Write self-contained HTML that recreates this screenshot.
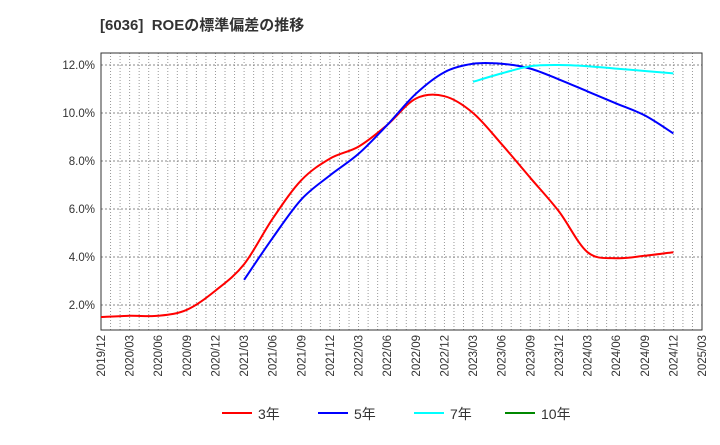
<!DOCTYPE html>
<html><head><meta charset="utf-8"><style>
body{margin:0;background:#fff;font-family:"Liberation Sans","Noto Sans CJK JP",sans-serif}
</style></head><body>
<svg width="720" height="440" xmlns="http://www.w3.org/2000/svg" id="chart" font-family="Liberation Sans, Noto Sans CJK JP, sans-serif">
<rect width="720" height="440" fill="#fff"/>
<text x="100" y="30" font-size="15" font-weight="bold" fill="#333">[6036]&#160; ROEの標準偏差の推移</text>
<g id="grid"></g><g id="axes"></g><g id="series"></g><g id="legend"></g>
</svg>
<script>
const xLabels=["2019/12","2020/03","2020/06","2020/09","2020/12","2021/03","2021/06","2021/09","2021/12","2022/03","2022/06","2022/09","2022/12","2023/03","2023/06","2023/09","2023/12","2024/03","2024/06","2024/09","2024/12","2025/03"];
const yTicks=[2,4,6,8,10,12];
const s3=[1.5,1.55,1.55,1.8,2.6,3.7,5.6,7.2,8.1,8.6,9.5,10.6,10.7,10.0,8.7,7.3,5.9,4.2,3.95,4.05,4.2];
const s5=[null,null,null,null,null,3.05,4.8,6.4,7.4,8.3,9.5,10.8,11.7,12.05,12.05,11.85,11.4,10.9,10.4,9.9,9.15];
const s7=[null,null,null,null,null,null,null,null,null,null,null,null,null,11.3,11.65,11.95,12.0,11.95,11.85,11.75,11.65];
const s10=[];
const L=101,R=702,T=53,B=330;
const xs=i=>L+i*(R-L)/21;
const ys=v=>353-v*24;
const NS="http://www.w3.org/2000/svg";
function mk(t,a,p){const e=document.createElementNS(NS,t);for(const k in a)e.setAttribute(k,a[k]);p.appendChild(e);return e;}
const g=document.getElementById('grid');
for(let m=1;m<63;m++){const x=L+m*(R-L)/63;
const l=mk('line',{x1:x,x2:x,y1:T,y2:B,stroke:'#999','stroke-dasharray':'1,2','stroke-width':1},g);

}
yTicks.forEach(v=>{const l=mk('line',{x1:L,x2:R,y1:ys(v),y2:ys(v),stroke:'#888','stroke-dasharray':'2,2'},g);


const t=mk('text',{x:L-6,y:ys(v)+4,'text-anchor':'end','font-size':11.5,fill:'#333'},g);t.textContent=v.toFixed(1)+'%';

});
const a=document.getElementById('axes');
const fr=mk('rect',{x:L,y:T,width:R-L,height:B-T,fill:'none',stroke:'#333'},a);


xLabels.forEach((s,i)=>{const x=xs(i);const t=mk('text',{x:0,y:0,transform:`translate(${x+4},${B+5}) rotate(-90)`,'text-anchor':'end','font-size':11.5,fill:'#333'},a);t.textContent=s;

});
function path(arr){const p=[];arr.forEach((v,i)=>{if(v!=null)p.push([xs(i),ys(v)]);});
if(p.length<2)return '';let d=`M${p[0][0]},${p[0][1]}`;
for(let i=0;i<p.length-1;i++){const p0=p[i-1]||p[i],p1=p[i],p2=p[i+1],p3=p[i+2]||p2;
d+=` C${p1[0]+(p2[0]-p0[0])/6},${p1[1]+(p2[1]-p0[1])/6} ${p2[0]-(p3[0]-p1[0])/6},${p2[1]-(p3[1]-p1[1])/6} ${p2[0]},${p2[1]}`;}return d;}
const sg=document.getElementById('series');
[[s3,'#f00','series-3yr'],[s5,'#00f','series-5yr'],[s7,'#0ff','series-7yr'],[s10,'#080','series-10yr']].forEach(([arr,c,n])=>{const d=path(arr);if(!d)return;
const e=mk('path',{d:d,fill:'none',stroke:c,'stroke-width':2},sg);

});
const lg=document.getElementById('legend');
[['3年','#f00',222],['5年','#00f',318],['7年','#0ff',414],['10年','#080',505]].forEach(([s,c,x])=>{
const l=mk('line',{x1:x,x2:x+30,y1:413,y2:413,stroke:c,'stroke-width':2},lg);


const t=mk('text',{x:x+36,y:419,'font-size':14,fill:'#333'},lg);t.textContent=s;

});
</script>
</body></html>
